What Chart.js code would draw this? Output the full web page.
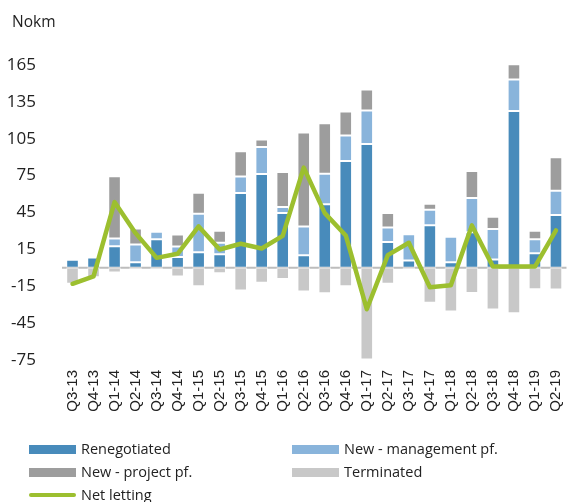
<!DOCTYPE html>
<html>
<head>
<meta charset="utf-8">
<script src="https://cdn.jsdelivr.net/npm/chart.js@4.4.1/dist/chart.umd.min.js"></script>
<style>
  html, body { margin: 0; padding: 0; background: #fff; overflow: hidden; }
  #wrap { position: relative; width: 584px; height: 502px; }
  #legend { position: absolute; left: 0; top: 0; width: 579px; height: 502px; pointer-events: none;
            font-family: "Open Sans", sans-serif; font-size: 14.5px; color: #222; }
  .item { position: absolute; height: 20px; display: flex; align-items: center; white-space: nowrap; }
  .item .sw { width: 47px; margin-right: 5px; }
  .item .tx { line-height: 20px; }
</style>
</head>
<body>
<div id="wrap">
  <canvas id="c" width="584" height="502"></canvas>
  <div id="legend"></div>
</div>
<script>
const categories = ["Q3-13","Q4-13","Q1-14","Q2-14","Q3-14","Q4-14","Q1-15","Q2-15","Q3-15","Q4-15","Q1-16","Q2-16","Q3-16","Q4-16","Q1-17","Q2-17","Q3-17","Q4-17","Q1-18","Q2-18","Q3-18","Q4-18","Q1-19","Q2-19"];
const renegotiated = [6.5, 8.4, 17.6, 4.6, 23.3, 8.7, 12.7, 11.1, 60.8, 76.3, 44.5, 10.3, 51.8, 86.9, 100.7, 20.9, 5.9, 34.7, 4.6, 29.0, 6.8, 127.6, 11.9, 42.9];
const newManagement = [0, 0, 6.3, 14.4, 6.0, 8.7, 31.3, 9.3, 13.4, 22.0, 4.9, 23.4, 24.8, 20.7, 27.2, 11.9, 21.5, 12.6, 20.7, 27.7, 24.7, 25.6, 11.4, 19.8];
const newProject = [0, 0, 50.5, 13.0, 0, 9.7, 17.1, 9.8, 20.6, 6.0, 28.5, 76.3, 41.0, 19.5, 17.1, 11.7, 0, 4.9, 0, 22.0, 10.1, 12.5, 6.9, 27.2];
const terminated = [-13.0, -7.6, -3.8, -1.0, -1.0, -7.1, -15.0, -4.4, -18.5, -12.2, -9.0, -19.3, -20.7, -15.0, -74.5, -13.0, -1.1, -28.5, -35.6, -20.4, -34.0, -37.0, -17.4, -17.7];
const netLetting = [-13.0, -7.0, 53.5, 28.2, 8.1, 11.4, 33.7, 14.9, 19.6, 15.7, 26.0, 81.5, 44.5, 26.3, -33.7, 10.3, 20.4, -15.8, -14.2, 34.5, 1, 1, 1, 30.4];
const yTicks = [-75, -45, -15, 15, 45, 75, 105, 135, 165];
const unitLabel = 'Nokm';

const C_RENEG = '#488BBB', C_MGMT = '#89B4DB', C_PROJ = '#9D9D9D', C_TERM = '#C8C8C8', C_NET = '#9CBF2F';

function barDs(label, data, color) {
  return { type: 'bar', label, data, backgroundColor: color, borderColor: 'rgba(255,255,255,0.55)',
           borderWidth: 1, borderSkipped: false, stack: 's', order: 1,
           barPercentage: 0.6, categoryPercentage: 1.0 };
}

const unitTitle = {
  id: 'unitTitle',
  afterDraw(ch) {
    const ctx = ch.ctx;
    ctx.save();
    ctx.fillStyle = '#222';
    ctx.font = '15.5px "Open Sans"';
    ctx.textAlign = 'left';
    ctx.textBaseline = 'middle';
    ctx.fillText(unitLabel, 12, 23);
    ctx.restore();
  }
};

const zeroLine = {
  id: 'zeroLine',
  beforeDatasetsDraw(ch) {
    const y = ch.scales.y.getPixelForValue(0);
    const ctx = ch.ctx;
    ctx.save();
    ctx.strokeStyle = '#BDBDBD';
    ctx.lineWidth = 2;
    ctx.beginPath();
    ctx.moveTo(ch.chartArea.left, y);
    ctx.lineTo(ch.chartArea.right, y);
    ctx.stroke();
    ctx.restore();
  }
};

const chart = new Chart(document.getElementById('c'), {
  data: {
    labels: categories,
    datasets: [
      barDs('Renegotiated', renegotiated, C_RENEG),
      barDs('New - management pf.', newManagement, C_MGMT),
      barDs('New - project pf.', newProject, C_PROJ),
      barDs('Terminated', terminated, C_TERM),
      { type: 'line', label: 'Net letting', data: netLetting, borderColor: C_NET, backgroundColor: C_NET,
        borderWidth: 4.5, pointRadius: 0, tension: 0, order: 0, borderCapStyle: 'round', borderJoinStyle: 'round' }
    ]
  },
  options: {
    responsive: false,
    animation: false,
    devicePixelRatio: 1,
    layout: { padding: { left: 0, right: 1.5, top: 65, bottom: 82 } },
    plugins: {
      legend: { display: false },
      tooltip: { enabled: false },
      title: { display: false }
    },
    scales: {
      x: {
        stacked: true,
        grid: { display: false, drawTicks: false },
        border: { display: false },
        ticks: { color: '#222', font: { family: 'Liberation Sans', size: 15 }, maxRotation: 90, minRotation: 90,
                 autoSkip: false, padding: 10 },
        afterFit: (s) => { s.height = 60; }
      },
      y: {
        stacked: true,
        min: -75, max: 165,
        afterBuildTicks: (s) => { s.ticks = yTicks.map(v => ({ value: v })); },
        grid: { display: false, drawTicks: false },
        border: { display: false },
        ticks: { color: '#222', font: { family: 'Open Sans', size: 17 }, padding: 26 },
        afterFit: (s) => { s.width = 62; }
      }
    }
  },
  plugins: [unitTitle, zeroLine]
});

// HTML legend built from chart datasets
const positions = [
  { left: 29, top: 439 }, { left: 292, top: 439 },
  { left: 29, top: 462 }, { left: 292, top: 462 },
  { left: 29, top: 485 }
];
const lg = document.getElementById('legend');
chart.data.datasets.forEach((ds, i) => {
  const it = document.createElement('div');
  it.className = 'item';
  it.style.left = positions[i].left + 'px';
  it.style.top = positions[i].top + 'px';
  const sw = document.createElement('span');
  sw.className = 'sw';
  sw.style.background = ds.type === 'line' ? ds.borderColor : ds.backgroundColor;
  sw.style.height = ds.type === 'line' ? '4px' : '9px';
  if (ds.type === 'line') sw.style.borderRadius = '2px';
  const tx = document.createElement('span');
  tx.className = 'tx';
  tx.textContent = ds.label;
  it.appendChild(sw); it.appendChild(tx);
  lg.appendChild(it);
});
</script>
</body>
</html>
